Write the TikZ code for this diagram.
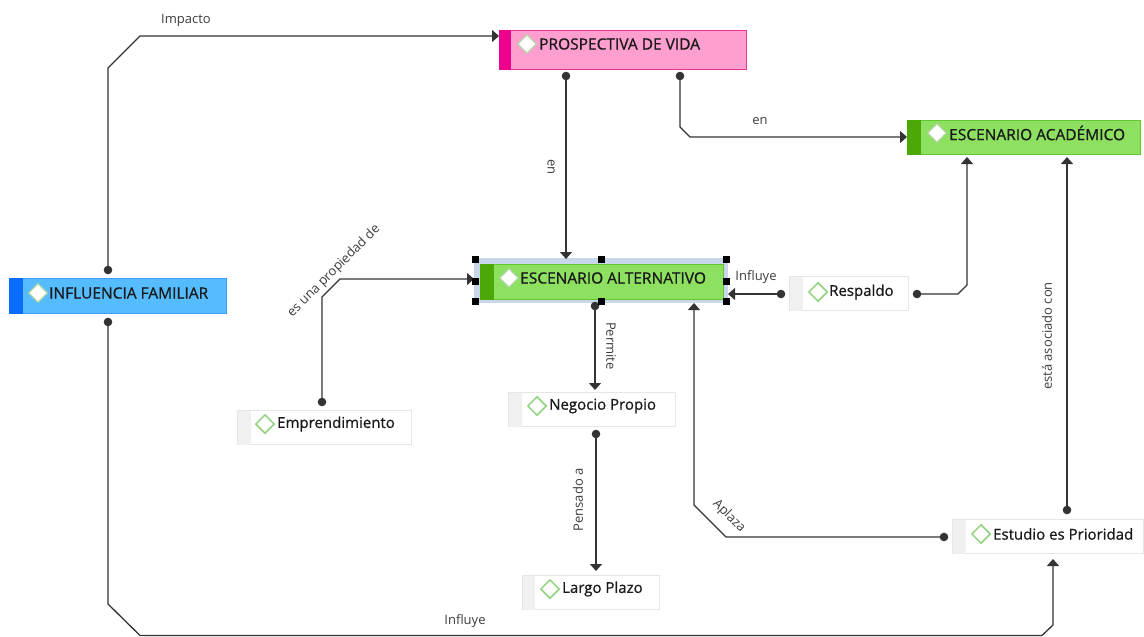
\documentclass[tikz,border=0pt]{standalone}
\usepackage{fontspec}
\setmainfont{Open Sans}
\newfontfamily\nodefont[FakeBold=0.8]{Open Sans}
\usetikzlibrary{calc,arrows.meta,shapes.geometric}
\definecolor{pinkfill}{HTML}{FF9FCF}
\definecolor{pinkstrip}{HTML}{EC008C}
\definecolor{pinkline}{HTML}{F0329A}
\definecolor{grnfill}{HTML}{8DE060}
\definecolor{grnstrip}{HTML}{4BA808}
\definecolor{grnline}{HTML}{62C62E}
\definecolor{bluefill}{HTML}{55BDFF}
\definecolor{bluestrip}{HTML}{0A6CFF}
\definecolor{blueline}{HTML}{3A9CFF}
\definecolor{selcol}{HTML}{C9D7EA}
\definecolor{plainline}{HTML}{E6E6E6}
\definecolor{plainstrip}{HTML}{F0F0F0}
\definecolor{diagrn}{HTML}{8ED27C}
\definecolor{diapale}{HTML}{B5D6A8}
\definecolor{linecol}{HTML}{333333}
\definecolor{txtcol}{HTML}{1A1A1A}
\begin{document}
\begin{tikzpicture}[x=1pt,y=-1pt,
  box/.style={rectangle,anchor=north west,inner sep=0pt,line width=1pt},
  pvbox/.style={box,draw=pinkline,fill=pinkfill},
  grbox/.style={box,draw=grnline,fill=grnfill},
  blbox/.style={box,draw=blueline,fill=bluefill},
  plbox/.style={box,draw=plainline,fill=white},
  diacol/.style={diamond,draw=diapale,fill=white,line width=1.3pt,minimum width=19pt,minimum height=19pt,inner sep=0pt},
  diaplain/.style={diamond,draw=diagrn,fill=white,line width=1.5pt,minimum width=19pt,minimum height=19pt,inner sep=0pt},
  ntext/.style={anchor=west,inner sep=0pt,font=\nodefont\fontsize{15.5}{17}\selectfont,text=txtcol},
  ptext/.style={anchor=west,inner sep=0pt,font=\nodefont\fontsize{15}{17}\selectfont,text=txtcol},
  lab/.style={inner sep=0pt,font=\fontsize{13}{15}\selectfont,text=txtcol!85},
  conn/.style={draw=linecol,line width=1.3pt},
  arr/.style={conn,-{Triangle[length=7pt,width=12pt]}},
  dotr/.style={fill=linecol},
  handle/.style={fill=black}
]
\useasboundingbox (0,0) rectangle (1144,637);

% ---------- concept boxes ----------
% Prospectiva de vida
\node[pvbox,minimum width=247pt,minimum height=39pt] (pv) at (499,30) {};
\fill[pinkstrip] (pv.north west) rectangle ($(pv.south west)+(12,0)$);
\node[diacol] (pvd) at (527,44) {};
\node[ntext] (pvt) at (539,44) {PROSPECTIVA DE VIDA};

% Escenario academico
\node[grbox,minimum width=233pt,minimum height=34pt] (ea) at (907,120) {};
\fill[grnstrip] (ea.north west) rectangle ($(ea.south west)+(14,0)$);
\node[diacol] (ead) at (937,133) {};
\node[ntext] (eat) at (949,133) {ESCENARIO ACADÉMICO};

% Escenario alternativo (selected)
\node[box,fill=selcol,minimum width=254pt,minimum height=45pt] (sel) at (473,257) {};
\node[grbox,minimum width=243pt,minimum height=35pt] (ealt) at (480,264) {};
\fill[grnstrip] (ealt.north west) rectangle ($(ealt.south west)+(14,0)$);
\node[diacol] (ealtd) at (509,278) {};
\node[ntext] (ealtt) at (520,278) {ESCENARIO ALTERNATIVO};

% Influencia familiar
\node[blbox,minimum width=217pt,minimum height=35pt] (if) at (9,278) {};
\fill[bluestrip] (if.north west) rectangle ($(if.south west)+(14,0)$);
\node[diacol] (ifd) at (38,293) {};
\node[ntext] (ift) at (49,293) {INFLUENCIA FAMILIAR};

% Respaldo
\node[plbox,minimum width=119pt,minimum height=34pt] (resp) at (789,276) {};
\fill[plainstrip] ($(resp.north west)+(0.5,0.5)$) rectangle ($(resp.south west)+(14,-0.5)$);
\node[diaplain] (respd) at (818,292) {};
\node[ptext] (respt) at (829,292) {Respaldo};

% Emprendimiento
\node[plbox,minimum width=174pt,minimum height=34pt] (empr) at (237,410) {};
\fill[plainstrip] ($(empr.north west)+(0.5,0.5)$) rectangle ($(empr.south west)+(14,-0.5)$);
\node[diaplain] (emprd) at (265,424) {};
\node[ptext] (emprt) at (277,424) {Emprendimiento};

% Negocio propio
\node[plbox,minimum width=167pt,minimum height=34pt] (neg) at (508,392) {};
\fill[plainstrip] ($(neg.north west)+(0.5,0.5)$) rectangle ($(neg.south west)+(14,-0.5)$);
\node[diaplain] (negd) at (537,406) {};
\node[ptext] (negt) at (549,406) {Negocio Propio};

% Largo plazo
\node[plbox,minimum width=137pt,minimum height=34pt] (largo) at (522,575) {};
\fill[plainstrip] ($(largo.north west)+(0.5,0.5)$) rectangle ($(largo.south west)+(13,-0.5)$);
\node[diaplain] (largod) at (550,589) {};
\node[ptext] (largot) at (562,589) {Largo Plazo};

% Estudio es prioridad
\node[plbox,minimum width=191pt,minimum height=34pt] (est) at (952,519) {};
\fill[plainstrip] ($(est.north west)+(0.5,0.5)$) rectangle ($(est.south west)+(14,-0.5)$);
\node[diaplain] (estd) at (981,534) {};
\node[ptext] (estt) at (993,534) {Estudio es Prioridad};

% ---------- connectors ----------
% Impacto
\draw[arr] ($(if.north west)+(99,-8)$) coordinate (d1) -- (108,68) -- (140,36) -- ($(pv.north west)+(0,6)$);
\fill[dotr] (d1) circle (4.3pt);
\node[lab] (l1) at (186,20) {Impacto};

% en (vertical)
\draw[arr] ($(pv.south west)+(67,6)$) coordinate (d2) -- ($(sel.north west)+(93,2)$);
\fill[dotr] (d2) circle (4.3pt);
\node[lab,rotate=-90] (l2) at (551,167) {en};

% en (to academico)
\draw[arr] ($(pv.south west)+(181,6)$) coordinate (d3) -- (680,127) -- (690,137) -- ($(ea.north west)+(0,17)$);
\fill[dotr] (d3) circle (4.3pt);
\node[lab] (l3) at (760,121) {en};

% es una propiedad de
\draw[arr] ($(empr.north west)+(85,-8)$) coordinate (d4) -- (322,297) -- (340,279) -- ($(sel.north west)+(1,22)$);
\fill[dotr] (d4) circle (4.3pt);
\node[lab,rotate=45] (l4) at (334,271) {es una propiedad de};

% Permite
\draw[arr] ($(sel.south west)+(122,3)$) coordinate (d5) -- ($(neg.north west)+(87,-2)$);
\fill[dotr] (d5) circle (4.3pt);
\node[lab,rotate=-90] (l5) at (611,346) {Permite};

% Pensado a
\draw[arr] ($(neg.south west)+(88,7)$) coordinate (d6) -- ($(largo.north west)+(74,-4)$);
\fill[dotr] (d6) circle (4.3pt);
\node[lab,rotate=90] (l6) at (578,500) {Pensado a};

% Influye (respaldo -> alternativo)
\draw[arr] ($(resp.north west)+(-8,18)$) coordinate (d7) -- ($(sel.north east)+(0,37)$);
\fill[dotr] (d7) circle (4.3pt);
\node[lab] (l7) at (756,277) {Influye};

% respaldo -> academico
\draw[arr] ($(resp.north east)+(8,18)$) coordinate (d8) -- (958,294) -- (967,285) -- ($(ea.south west)+(60,2)$);
\fill[dotr] (d8) circle (4.3pt);

% esta asociado con
\draw[arr] ($(est.north west)+(115,-9)$) coordinate (d9) -- ($(ea.south west)+(160,2)$);
\fill[dotr] (d9) circle (4.3pt);
\node[lab,rotate=90] (l9) at (1047,336) {está asociado con};

% Aplaza
\draw[arr] ($(est.north west)+(-8,18)$) coordinate (d10) -- (726,537) -- (694,505) -- ($(sel.south west)+(221,0)$);
\fill[dotr] (d10) circle (4.3pt);
\node[lab,rotate=-45] (l10) at (729,516) {Aplaza};

% Influye (bottom)
\draw[arr] ($(if.south west)+(99,8)$) coordinate (d11) -- (108,604) -- (140,635.5) -- (1042,635.5) -- (1053,625) -- ($(est.south west)+(101,5)$);
\fill[dotr] (d11) circle (4.3pt);
\node[lab] (l11) at (465,621) {Influye};

% ---------- selection handles ----------
\foreach \hx/\hy in {475/259,601/259,726/259,475/281,726/281,475/301,601/301,726/301}
  \fill[handle] (\hx-3.5,\hy-3.5) rectangle (\hx+3.5,\hy+3.5);
\end{tikzpicture}
\end{document}
